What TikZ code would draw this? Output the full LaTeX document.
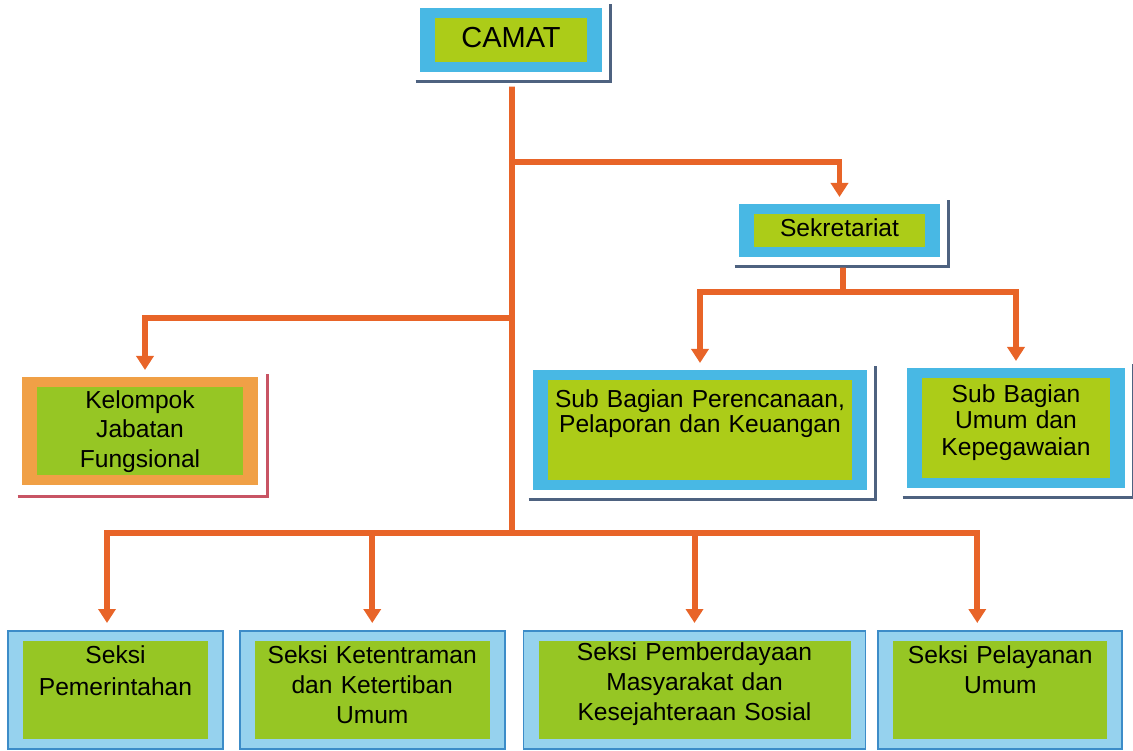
\documentclass[tikz,border=0pt]{standalone}
\usepackage{fontspec}
\setmainfont{Liberation Sans}
\usepackage{xcolor}
\usepackage{tikz}
\usetikzlibrary{arrows.meta, positioning}

\definecolor{oranye}{RGB}{232,100,40}
\definecolor{biru}{RGB}{72,184,228}
\definecolor{birumuda}{RGB}{150,210,238}
\definecolor{birutepi}{RGB}{60,140,200}
\definecolor{hijau}{RGB}{172,204,24}
\definecolor{hijaumuda}{RGB}{150,198,36}
\definecolor{jingga}{RGB}{240,160,70}
\definecolor{bayang}{RGB}{78,98,128}
\definecolor{bayangmerah}{RGB}{200,84,100}

\begin{document}
\begin{tikzpicture}
        % Definisikan gaya untuk kotak dan garis
        \tikzstyle{isi} = [path picture={\fill[#1] ([shift={(0.3,0.2)}]path picture bounding box.south west) rectangle ([shift={(-0.3,-0.2)}]path picture bounding box.north east);}]
        \tikzstyle{kotak} = [rectangle, inner sep=0pt, align=center, anchor=north, text height=0.66cm, text depth=1.70cm, font=\fontsize{14}{17}\selectfont, fill=biru, isi=hijau]
        \tikzstyle{kotakbawah} = [kotak, fill=birumuda, draw=birutepi, line width=1pt, isi=hijaumuda]
        \tikzstyle{bayangan} = [line width=1.6pt, draw=bayang]
        \tikzstyle{garis} = [line width=3.4pt, draw=oranye]
        \tikzstyle{panah} = [garis, -{Triangle[width=0.34cm, length=0.28cm]}, shorten >=0.14cm]

        \useasboundingbox (0,0) rectangle (22.66,-15.02);

        % Tempatkan kotak
        \node (camat) [kotak, text width=3.64cm, text height=0.78cm, text depth=0.5cm, font=\fontsize{16.5}{19}\selectfont] at (10.22,-0.16) {CAMAT};
        \node (sekre) [kotak, text width=4.02cm, text height=0.65cm, text depth=0.41cm] at (16.79,-4.08) {Sekretariat};
        \node (kelompok) [kotak, text width=4.72cm, text height=0.62cm, text depth=1.54cm, fill=jingga, isi=hijaumuda, font=\fontsize{14}{16.8}\selectfont] at (2.80,-7.54) {Kelompok\\ Jabatan\\ Fungsional};
        \node (renc) [kotak, text width=6.68cm, text height=0.74cm, text depth=1.66cm, font=\fontsize{14}{14.5}\selectfont] at (14.00,-7.40) {Sub Bagian Perencanaan,\\ Pelaporan dan Keuangan};
        \node (umum) [kotak, text width=4.36cm, text height=0.68cm, text depth=1.72cm, font=\fontsize{14}{15}\selectfont] at (20.32,-7.36) {Sub Bagian\\ Umum dan\\ Kepegawaian};
        \node (pemerintahan) [kotakbawah, text width=4.30cm, font=\fontsize{14}{18}\selectfont] at (2.31,-12.60) {Seksi\\ Pemerintahan};
        \node (ketentraman) [kotakbawah, text width=5.30cm, right=0.3cm of pemerintahan] {Seksi Ketentraman\\ dan Ketertiban\\ Umum};
        \node (pemberdayaan) [kotakbawah, text width=6.84cm, text height=0.60cm, text depth=1.76cm, right=0.34cm of ketentraman] {Seksi Pemberdayaan\\ Masyarakat dan\\ Kesejahteraan Sosial};
        \node (pelayanan) [kotakbawah, text width=4.88cm, right=0.22cm of pemberdayaan] {Seksi Pelayanan\\ Umum};

        % Garis bayangan
        \foreach \k in {camat, sekre, renc, umum}
            \draw [bayangan] ([xshift=-0.08cm, yshift=-0.18cm]\k.south west) -| ([xshift=0.16cm, yshift=0.08cm]\k.north east);
        \draw [bayangan, draw=bayangmerah] ([xshift=-0.08cm, yshift=-0.22cm]kelompok.south west) -| ([xshift=0.18cm, yshift=0.06cm]kelompok.north east);

        % Titik cabang
        \coordinate (jsek) at (10.24,-3.24);
        \coordinate (jkel) at (10.24,-6.36);
        \coordinate (jbawah) at (10.24,-10.66);
        \coordinate (jsub) at (16.86,-5.84);

        % Gambar garis dan panah
        \draw [garis] ([xshift=0.02cm, yshift=-0.28cm]camat.south) -- (jbawah);
        \draw [panah] (jsek) -| (sekre.north);
        \draw [panah] (jkel) -| ([xshift=0.1cm]kelompok.north);
        \draw [garis] ([xshift=0.07cm, yshift=-0.2cm]sekre.south) -- (jsub);
        \draw [panah] (jsub) -| (renc.north);
        \draw [panah] (jsub) -| (umum.north);
        \draw [panah] (jbawah) -| ([xshift=-0.17cm]pemerintahan.north);
        \draw [panah] (jbawah) -| (ketentraman.north);
        \draw [panah] (jbawah) -| (pemberdayaan.north);
        \draw [panah] (jbawah) -| ([xshift=-0.46cm]pelayanan.north);
    \end{tikzpicture}
\end{document}
